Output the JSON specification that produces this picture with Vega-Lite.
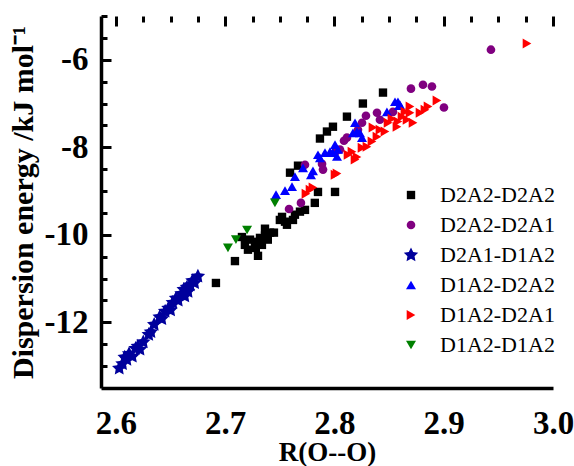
{
  "$schema": "https://vega.github.io/schema/vega-lite/v6.json",
  "autosize": {"type": "none"},
  "padding": {"left": 101, "top": 16, "right": 21, "bottom": 78},
  "width": 452,
  "height": 372,
  "background": "white",
  "config": {
    "view": {"stroke": null},
    "font": "Liberation Serif"
  },
  "data": {
    "values": [
      {"series": "D2A2-D2A2", "r": 2.6915, "e": -11.10},
      {"series": "D2A2-D2A2", "r": 2.7089, "e": -10.60},
      {"series": "D2A2-D2A2", "r": 2.730, "e": -10.48},
      {"series": "D2A2-D2A2", "r": 2.7153, "e": -10.05},
      {"series": "D2A2-D2A2", "r": 2.718, "e": -10.23},
      {"series": "D2A2-D2A2", "r": 2.7227, "e": -10.11},
      {"series": "D2A2-D2A2", "r": 2.7272, "e": -10.16},
      {"series": "D2A2-D2A2", "r": 2.7318, "e": -10.07},
      {"series": "D2A2-D2A2", "r": 2.7364, "e": -10.02},
      {"series": "D2A2-D2A2", "r": 2.7336, "e": -10.23},
      {"series": "D2A2-D2A2", "r": 2.741, "e": -9.95},
      {"series": "D2A2-D2A2", "r": 2.7208, "e": -10.34},
      {"series": "D2A2-D2A2", "r": 2.728, "e": -10.30},
      {"series": "D2A2-D2A2", "r": 2.739, "e": -10.11},
      {"series": "D2A2-D2A2", "r": 2.7364, "e": -9.86},
      {"series": "D2A2-D2A2", "r": 2.7446, "e": -9.95},
      {"series": "D2A2-D2A2", "r": 2.752, "e": -9.59},
      {"series": "D2A2-D2A2", "r": 2.7565, "e": -9.77},
      {"series": "D2A2-D2A2", "r": 2.762, "e": -9.66},
      {"series": "D2A2-D2A2", "r": 2.7684, "e": -9.47},
      {"series": "D2A2-D2A2", "r": 2.773, "e": -9.43},
      {"series": "D2A2-D2A2", "r": 2.750, "e": -9.66},
      {"series": "D2A2-D2A2", "r": 2.7547, "e": -9.70},
      {"series": "D2A2-D2A2", "r": 2.7638, "e": -9.54},
      {"series": "D2A2-D2A2", "r": 2.782, "e": -9.27},
      {"series": "D2A2-D2A2", "r": 2.7849, "e": -9.02},
      {"series": "D2A2-D2A2", "r": 2.8005, "e": -9.02},
      {"series": "D2A2-D2A2", "r": 2.7593, "e": -8.58},
      {"series": "D2A2-D2A2", "r": 2.7666, "e": -8.42},
      {"series": "D2A2-D2A2", "r": 2.7867, "e": -7.80},
      {"series": "D2A2-D2A2", "r": 2.7931, "e": -7.64},
      {"series": "D2A2-D2A2", "r": 2.7986, "e": -7.53},
      {"series": "D2A2-D2A2", "r": 2.8114, "e": -7.30},
      {"series": "D2A2-D2A2", "r": 2.826, "e": -7.00},
      {"series": "D2A2-D2A2", "r": 2.8444, "e": -6.75},
      {"series": "D2A2-D2A1", "r": 2.7584, "e": -9.41},
      {"series": "D2A2-D2A1", "r": 2.7693, "e": -9.27},
      {"series": "D2A2-D2A1", "r": 2.773, "e": -8.40},
      {"series": "D2A2-D2A1", "r": 2.7895, "e": -8.51},
      {"series": "D2A2-D2A1", "r": 2.7886, "e": -8.38},
      {"series": "D2A2-D2A1", "r": 2.801, "e": -8.10},
      {"series": "D2A2-D2A1", "r": 2.805, "e": -8.05},
      {"series": "D2A2-D2A1", "r": 2.8087, "e": -7.85},
      {"series": "D2A2-D2A1", "r": 2.8114, "e": -7.78},
      {"series": "D2A2-D2A1", "r": 2.8215, "e": -7.60},
      {"series": "D2A2-D2A1", "r": 2.8252, "e": -7.44},
      {"series": "D2A2-D2A1", "r": 2.8288, "e": -7.28},
      {"series": "D2A2-D2A1", "r": 2.8389, "e": -7.21},
      {"series": "D2A2-D2A1", "r": 2.8416, "e": -7.37},
      {"series": "D2A2-D2A1", "r": 2.8535, "e": -7.19},
      {"series": "D2A2-D2A1", "r": 2.870, "e": -6.66},
      {"series": "D2A2-D2A1", "r": 2.881, "e": -6.57},
      {"series": "D2A2-D2A1", "r": 2.8892, "e": -6.61},
      {"series": "D2A2-D2A1", "r": 2.9002, "e": -7.09},
      {"series": "D2A2-D2A1", "r": 2.9432, "e": -5.77},
      {"series": "D2A1-D1A2", "r": 2.603, "e": -13.05},
      {"series": "D2A1-D1A2", "r": 2.606, "e": -12.95},
      {"series": "D2A1-D1A2", "r": 2.608, "e": -12.80},
      {"series": "D2A1-D1A2", "r": 2.610, "e": -12.85},
      {"series": "D2A1-D1A2", "r": 2.612, "e": -12.72},
      {"series": "D2A1-D1A2", "r": 2.615, "e": -12.78},
      {"series": "D2A1-D1A2", "r": 2.618, "e": -12.60},
      {"series": "D2A1-D1A2", "r": 2.620, "e": -12.55},
      {"series": "D2A1-D1A2", "r": 2.622, "e": -12.62},
      {"series": "D2A1-D1A2", "r": 2.625, "e": -12.45},
      {"series": "D2A1-D1A2", "r": 2.630, "e": -12.28},
      {"series": "D2A1-D1A2", "r": 2.632, "e": -12.22},
      {"series": "D2A1-D1A2", "r": 2.635, "e": -12.05},
      {"series": "D2A1-D1A2", "r": 2.640, "e": -11.88},
      {"series": "D2A1-D1A2", "r": 2.642, "e": -11.92},
      {"series": "D2A1-D1A2", "r": 2.645, "e": -11.75},
      {"series": "D2A1-D1A2", "r": 2.648, "e": -11.68},
      {"series": "D2A1-D1A2", "r": 2.650, "e": -11.72},
      {"series": "D2A1-D1A2", "r": 2.652, "e": -11.55},
      {"series": "D2A1-D1A2", "r": 2.655, "e": -11.45},
      {"series": "D2A1-D1A2", "r": 2.657, "e": -11.50},
      {"series": "D2A1-D1A2", "r": 2.660, "e": -11.35},
      {"series": "D2A1-D1A2", "r": 2.662, "e": -11.25},
      {"series": "D2A1-D1A2", "r": 2.663, "e": -11.40},
      {"series": "D2A1-D1A2", "r": 2.665, "e": -11.20},
      {"series": "D2A1-D1A2", "r": 2.666, "e": -11.30},
      {"series": "D2A1-D1A2", "r": 2.668, "e": -11.15},
      {"series": "D2A1-D1A2", "r": 2.670, "e": -11.05},
      {"series": "D2A1-D1A2", "r": 2.672, "e": -11.10},
      {"series": "D2A1-D1A2", "r": 2.675, "e": -10.95},
      {"series": "D1A2-D2A2", "r": 2.7465, "e": -9.08},
      {"series": "D1A2-D2A2", "r": 2.7547, "e": -8.99},
      {"series": "D1A2-D2A2", "r": 2.7611, "e": -8.90},
      {"series": "D1A2-D2A2", "r": 2.7638, "e": -8.67},
      {"series": "D1A2-D2A2", "r": 2.7712, "e": -8.47},
      {"series": "D1A2-D2A2", "r": 2.7785, "e": -8.63},
      {"series": "D1A2-D2A2", "r": 2.7803, "e": -8.54},
      {"series": "D1A2-D2A2", "r": 2.7849, "e": -8.17},
      {"series": "D1A2-D2A2", "r": 2.7867, "e": -8.24},
      {"series": "D1A2-D2A2", "r": 2.7913, "e": -8.12},
      {"series": "D1A2-D2A2", "r": 2.7959, "e": -8.10},
      {"series": "D1A2-D2A2", "r": 2.8005, "e": -7.94},
      {"series": "D1A2-D2A2", "r": 2.7986, "e": -8.12},
      {"series": "D1A2-D2A2", "r": 2.8023, "e": -8.21},
      {"series": "D1A2-D2A2", "r": 2.8032, "e": -8.05},
      {"series": "D1A2-D2A2", "r": 2.8169, "e": -7.67},
      {"series": "D1A2-D2A2", "r": 2.8188, "e": -7.44},
      {"series": "D1A2-D2A2", "r": 2.8206, "e": -7.64},
      {"series": "D1A2-D2A2", "r": 2.8233, "e": -7.67},
      {"series": "D1A2-D2A2", "r": 2.8252, "e": -7.78},
      {"series": "D1A2-D2A2", "r": 2.848, "e": -7.19},
      {"series": "D1A2-D2A2", "r": 2.8554, "e": -6.96},
      {"series": "D1A2-D2A2", "r": 2.8581, "e": -6.96},
      {"series": "D1A2-D2A2", "r": 2.859, "e": -7.05},
      {"series": "D1A2-D2A2", "r": 2.86, "e": -7.03},
      {"series": "D1A2-D2A1", "r": 2.7739, "e": -9.06},
      {"series": "D1A2-D2A1", "r": 2.7776, "e": -8.97},
      {"series": "D1A2-D2A1", "r": 2.7803, "e": -8.92},
      {"series": "D1A2-D2A1", "r": 2.8005, "e": -8.63},
      {"series": "D1A2-D2A1", "r": 2.8023, "e": -8.60},
      {"series": "D1A2-D2A1", "r": 2.8124, "e": -8.17},
      {"series": "D1A2-D2A1", "r": 2.816, "e": -8.10},
      {"series": "D1A2-D2A1", "r": 2.8206, "e": -8.22},
      {"series": "D1A2-D2A1", "r": 2.8188, "e": -8.28},
      {"series": "D1A2-D2A1", "r": 2.8252, "e": -8.01},
      {"series": "D1A2-D2A1", "r": 2.8297, "e": -7.99},
      {"series": "D1A2-D2A1", "r": 2.8343, "e": -7.87},
      {"series": "D1A2-D2A1", "r": 2.8389, "e": -7.76},
      {"series": "D1A2-D2A1", "r": 2.8352, "e": -7.55},
      {"series": "D1A2-D2A1", "r": 2.8416, "e": -7.60},
      {"series": "D1A2-D2A1", "r": 2.8462, "e": -7.64},
      {"series": "D1A2-D2A1", "r": 2.849, "e": -7.44},
      {"series": "D1A2-D2A1", "r": 2.8526, "e": -7.35},
      {"series": "D1A2-D2A1", "r": 2.8572, "e": -7.53},
      {"series": "D1A2-D2A1", "r": 2.8581, "e": -7.41},
      {"series": "D1A2-D2A1", "r": 2.8618, "e": -7.30},
      {"series": "D1A2-D2A1", "r": 2.8645, "e": -7.19},
      {"series": "D1A2-D2A1", "r": 2.8664, "e": -7.37},
      {"series": "D1A2-D2A1", "r": 2.8691, "e": -7.07},
      {"series": "D1A2-D2A1", "r": 2.8691, "e": -7.21},
      {"series": "D1A2-D2A1", "r": 2.8719, "e": -7.44},
      {"series": "D1A2-D2A1", "r": 2.8783, "e": -7.21},
      {"series": "D1A2-D2A1", "r": 2.8828, "e": -7.14},
      {"series": "D1A2-D2A1", "r": 2.8856, "e": -7.07},
      {"series": "D1A2-D2A1", "r": 2.8938, "e": -6.93},
      {"series": "D1A2-D2A1", "r": 2.9762, "e": -5.63},
      {"series": "D1A2-D1A2", "r": 2.7025, "e": -10.30},
      {"series": "D1A2-D1A2", "r": 2.7098, "e": -10.11},
      {"series": "D1A2-D1A2", "r": 2.720, "e": -9.89},
      {"series": "D1A2-D1A2", "r": 2.7455, "e": -9.27}
    ]
  },
  "mark": {"type": "point", "filled": true, "opacity": 1},
  "encoding": {
    "x": {
      "field": "r",
      "type": "quantitative",
      "scale": {"domain": [2.5863, 3.0], "nice": false, "zero": false},
      "axis": {
        "orient": "bottom",
        "title": "R(O--O)",
        "titleFont": "Liberation Serif",
        "titleFontSize": 27,
        "titleFontWeight": "bold",
        "titleColor": "black",
        "titlePadding": -1,
        "values": [2.6, 2.625, 2.65, 2.675, 2.7, 2.725, 2.75, 2.775, 2.8, 2.825, 2.85, 2.875, 2.9, 2.925, 2.95, 2.975, 3.0],
        "labelExpr": "abs(datum.value * 10 - round(datum.value * 10)) < 0.001 ? format(datum.value, '.1f') : ''",
        "ticks": false,
        "labelFont": "Liberation Serif",
        "labelFontSize": 33,
        "labelFontWeight": "bold",
        "labelColor": "black",
        "labelPadding": 19,
        "labelOverlap": false,
        "labelFlush": false,
        "grid": true,
        "gridColor": "black",
        "gridWidth": 3,
        "gridOpacity": 1,
        "gridDash": {"condition": {"test": "abs(datum.value * 10 - round(datum.value * 10)) < 0.001", "value": [10, 2000]}, "value": [6, 2000]},
        "domainColor": "black",
        "domainWidth": 3.5
      }
    },
    "y": {
      "field": "e",
      "type": "quantitative",
      "scale": {"domain": [-13.5, -5], "nice": false, "zero": false},
      "axis": {
        "orient": "left",
        "title": "Dispersion energy /kJ mol⁻¹",
        "titleFont": "Liberation Serif",
        "titleFontSize": 30,
        "titleFontWeight": "bold",
        "titleColor": "black",
        "titlePadding": 6,
        "values": [-13, -12.5, -12, -11.5, -11, -10.5, -10, -9.5, -9, -8.5, -8, -7.5, -7, -6.5, -6, -5.5, -5],
        "labelExpr": "datum.value % 2 == 0 ? '' + datum.value : ''",
        "ticks": false,
        "labelFont": "Liberation Serif",
        "labelFontSize": 33,
        "labelFontWeight": "bold",
        "labelColor": "black",
        "labelPadding": 13,
        "labelOverlap": false,
        "labelFlush": false,
        "grid": true,
        "gridColor": "black",
        "gridWidth": 3,
        "gridOpacity": 1,
        "gridDash": {"condition": {"test": "datum.value % 2 == 0", "value": [10, 2000]}, "value": [6, 2000]},
        "domainColor": "black",
        "domainWidth": 3.5
      }
    },
    "color": {
      "field": "series",
      "type": "nominal",
      "scale": {
        "domain": ["D2A2-D2A2", "D2A2-D2A1", "D2A1-D1A2", "D1A2-D2A2", "D1A2-D2A1", "D1A2-D1A2"],
        "range": ["#000000", "#800080", "#00009C", "#0000FF", "#FF0000", "#008000"]
      },
      "legend": {
        "title": null,
        "orient": "none",
        "legendX": 299,
        "legendY": 168,
        "padding": 0,
        "labelFont": "Liberation Serif",
        "labelFontSize": 22,
        "labelColor": "black",
        "labelOffset": 18,
        "rowPadding": 8,
        "symbolSize": 50,
        "symbolStrokeWidth": 0
      }
    },
    "shape": {
      "field": "series",
      "type": "nominal",
      "scale": {
        "domain": ["D2A2-D2A2", "D2A2-D2A1", "D2A1-D1A2", "D1A2-D2A2", "D1A2-D2A1", "D1A2-D1A2"],
        "range": ["square", "circle", "M0,-1L0.29,-0.4L0.951,-0.309L0.47,0.15L0.588,0.809L0,0.5L-0.588,0.809L-0.47,0.15L-0.951,-0.309L-0.29,-0.4Z", "triangle-up", "triangle-right", "triangle-down"]
      }
    },
    "size": {
      "field": "series",
      "type": "nominal",
      "scale": {
        "type": "ordinal",
        "domain": ["D2A2-D2A2", "D2A2-D2A1", "D2A1-D1A2", "D1A2-D2A2", "D1A2-D2A1", "D1A2-D1A2"],
        "range": [70, 75, 230, 100, 100, 100]
      },
      "legend": null
    }
  }
}
